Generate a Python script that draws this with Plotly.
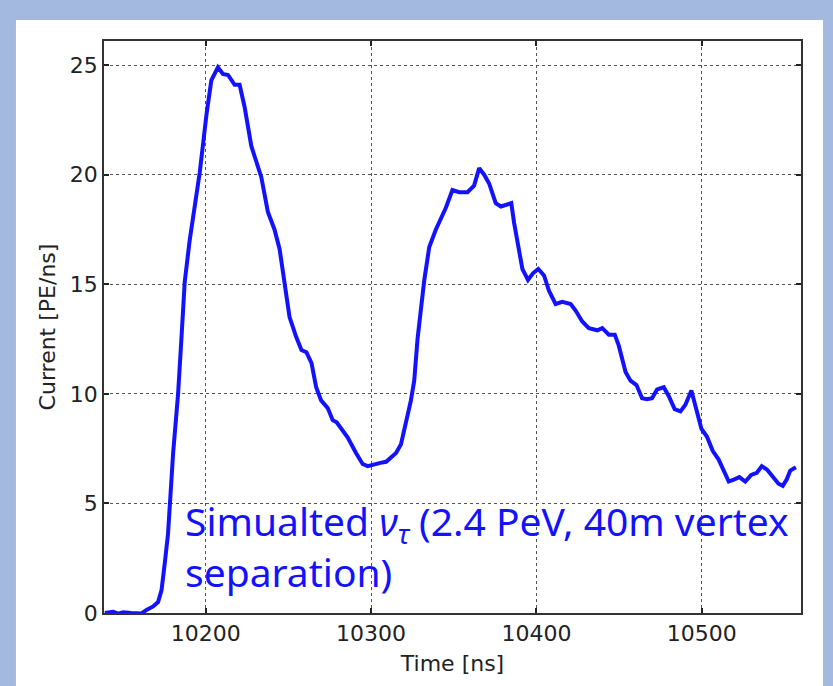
import plotly.graph_objects as go

# Simulated PMT current waveform (time in ns, current in PE/ns)
time_ns = [
    10139.0, 10144.1, 10147.1, 10150.1, 10154.7, 10161.2, 10164.2, 10168.2, 10171.2, 10173.3,
    10175.3, 10177.2, 10180.3, 10183.3, 10185.3, 10187.3, 10190.3, 10196.4, 10200.4, 10203.4,
    10207.4, 10210.4, 10213.5, 10217.5, 10220.5, 10223.5, 10227.6, 10230.6, 10233.6, 10237.6,
    10241.6, 10244.7, 10247.7, 10250.7, 10254.7, 10257.9, 10260.9, 10264.0, 10266.8, 10269.8,
    10273.8, 10276.8, 10279.2, 10282.7, 10285.9, 10290.9, 10294.9, 10298.0, 10302.0, 10305.6,
    10309.1, 10315.1, 10318.1, 10321.1, 10324.1, 10326.1, 10328.1, 10332.2, 10335.2, 10339.2,
    10345.3, 10349.2, 10353.3, 10358.3, 10362.3, 10365.4, 10368.4, 10371.4, 10375.4, 10378.5,
    10381.5, 10384.8, 10386.5, 10389.5, 10391.5, 10394.9, 10397.9, 10401.1, 10404.6, 10407.6,
    10411.6, 10415.6, 10420.7, 10423.7, 10427.7, 10431.7, 10436.8, 10439.8, 10443.8, 10447.4,
    10449.8, 10453.9, 10456.9, 10460.5, 10463.9, 10466.9, 10469.9, 10473.0, 10477.0, 10480.0,
    10483.6, 10487.1, 10490.1, 10493.7, 10496.5, 10499.8, 10503.1, 10506.6, 10510.2, 10513.2,
    10516.3, 10519.7, 10522.7, 10526.3, 10529.9, 10533.3, 10536.3, 10539.4, 10542.4, 10546.4,
    10549.0, 10551.4, 10553.5, 10556.9,
]
current_pe = [
    0.0, 0.05, -0.03, 0.03, 0.0, -0.02, 0.14, 0.3, 0.5, 1.05,
    2.3, 3.6, 7.3, 10.0, 12.5, 15.1, 17.0, 20.1, 22.7, 24.3,
    24.9, 24.6, 24.55, 24.1, 24.1, 23.1, 21.3, 20.6, 19.9, 18.3,
    17.5, 16.6, 14.9, 13.5, 12.6, 12.0, 11.9, 11.4, 10.3, 9.7,
    9.35, 8.8, 8.7, 8.3, 8.0, 7.3, 6.8, 6.7, 6.8, 6.85,
    6.9, 7.3, 7.7, 8.7, 9.7, 10.6, 12.5, 15.2, 16.7, 17.5,
    18.5, 19.3, 19.2, 19.2, 19.5, 20.3, 20.0, 19.6, 18.7, 18.55,
    18.6, 18.7, 17.8, 16.4, 15.7, 15.2, 15.5, 15.7, 15.4, 14.7,
    14.1, 14.2, 14.1, 13.8, 13.3, 13.0, 12.9, 13.0, 12.7, 12.7,
    12.2, 11.0, 10.6, 10.4, 9.8, 9.75, 9.8, 10.2, 10.3, 9.9,
    9.3, 9.2, 9.5, 10.15, 9.35, 8.4, 8.05, 7.4, 7.0, 6.45,
    6.0, 6.1, 6.2, 6.0, 6.3, 6.4, 6.7, 6.55, 6.3, 5.9,
    5.8, 6.1, 6.5, 6.65,
]

x_ticks = [10200, 10300, 10400, 10500]
x_tick_labels = ["10200", "10300", "10400", "10500"]
y_ticks = [0, 5, 10, 15, 20, 25]
y_tick_labels = ["0", "5", "10", "15", "20", "25"]

BLUE = "#1212ff"
INK = "#222222"


def axis_style(title, rng, vals, labels, standoff):
    return dict(
        range=rng,
        tickmode="array", tickvals=vals, ticktext=labels,
        tickfont=dict(family="DejaVu Sans", size=22, color=INK),
        title=dict(text=title, standoff=standoff,
                   font=dict(family="DejaVu Sans", size=22, color=INK)),
        showline=True, linecolor="#333333", linewidth=1.5, mirror="ticks",
        ticks="inside", ticklen=5, tickwidth=1.5, tickcolor=INK,
        showgrid=True, gridcolor="#555555", gridwidth=1, griddash="dot",
        zeroline=False,
    )


fig = go.Figure()
fig.add_trace(go.Scatter(
    x=time_ns, y=current_pe, mode="lines",
    line=dict(color=BLUE, width=4), showlegend=False,
))

# slide-style frame: light blue surround with white card
fig.add_shape(type="rect", xref="paper", yref="paper",
              x0=-0.1263, x1=1.0316, y0=-0.1300, y1=1.0367,
              fillcolor="white", line=dict(width=0), layer="below")

fig.add_annotation(
    xref="paper", yref="paper", x=0.113, y=0.118,
    xanchor="left", yanchor="middle", align="left", showarrow=False,
    text="Simualted <i>ν</i><sub><i>τ</i></sub> (2.4 PeV, 40m vertex<br>separation)",
    font=dict(family="Noto Sans", size=39, color=BLUE),
)

fig.update_layout(
    width=833, height=686,
    margin=dict(l=104, r=32, t=41, b=73),
    paper_bgcolor="#a3b9e0", plot_bgcolor="white",
    font=dict(family="DejaVu Sans", size=22, color=INK),
    xaxis=axis_style("Time [ns]", [10138.5, 10560], x_ticks, x_tick_labels, 10),
    yaxis=axis_style("Current [PE/ns]", [0, 26.1], y_ticks, y_tick_labels, 8),
)

fig.write_html("out.html")
